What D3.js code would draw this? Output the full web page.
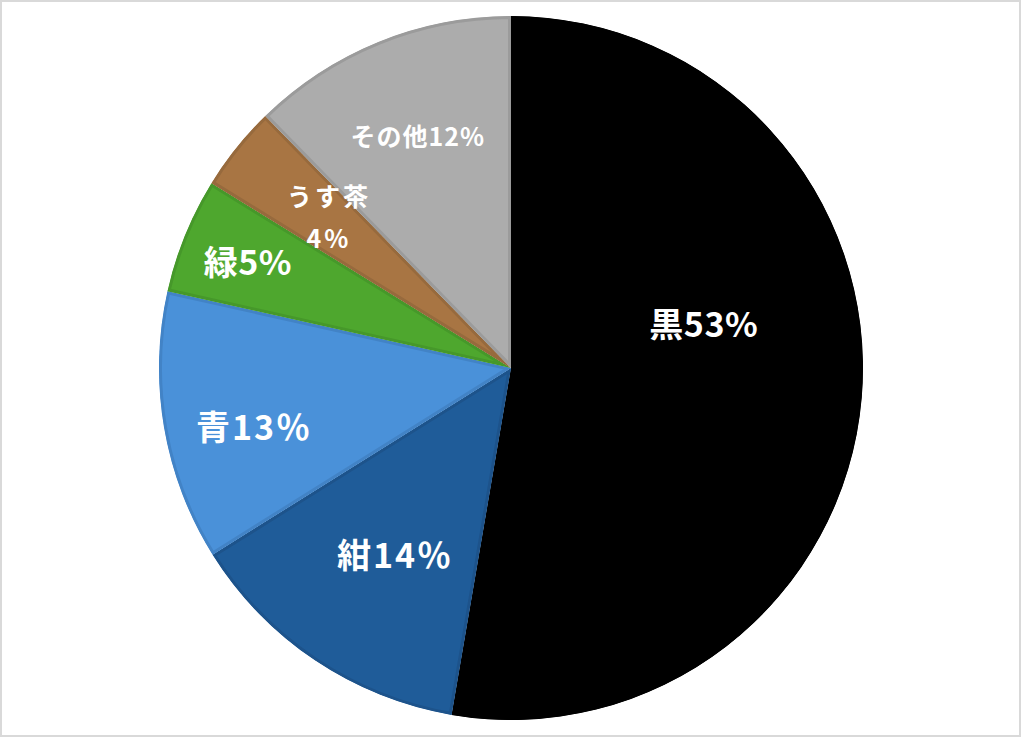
<!DOCTYPE html>
<html lang="ja">
<head>
<meta charset="utf-8">
<title>色の割合</title>
<script src="https://cdn.jsdelivr.net/npm/d3@7"></script>
<style>
  html, body { margin: 0; padding: 0; background: #fff; }
  .label { fill: #fff; font-family: "Noto Sans CJK JP", "Noto Sans", sans-serif; font-weight: 700; text-anchor: middle; dominant-baseline: central; }
</style>
</head>
<body>
<svg class="canvas"></svg>
<script>
// slice data, clockwise from 12 o'clock
var categories = ['黒', '紺', '青', '緑', 'うす茶', 'その他'];
var values = [52.7, 13.4, 12.4, 5.3, 3.9, 12.3];
var labelLines = [['黒53%'], ['紺14％'], ['青13％'], ['緑5%'], ['うす茶', '4%'], ['その他12%']];

var fills = ['#000000', '#1f5c99', '#4a91d9', '#4ea72e', '#a87543', '#acacac'];
var strokes = ['#000000', '#1d538b', '#4283c6', '#46982a', '#976a3d', '#9b9b9b'];
// label placement: [angle in degrees clockwise from top, fraction of radius], font size, letter spacing
var labelPolar = [[76.6, 0.563], [212.1, 0.62], [257.5, 0.748], [292.3, 0.808], [309.9, 0.674], [338.2, 0.713]];
var labelSize = [34, 34, 34, 34, 25, 25];
var labelSpacing = [0.5, 2, 2, 0.5, 3, 1];

(function () {
  var width = 1024, height = 740;
  var cx = 511, cy = 368, radius = 352;

  var svg = d3.select('.canvas')
      .attr('width', width)
      .attr('height', height);

  // chart frame
  svg.append('rect')
      .attr('x', 1).attr('y', 1)
      .attr('width', 1019).attr('height', 735)
      .attr('fill', '#fff')
      .attr('stroke', '#d9d9d9')
      .attr('stroke-width', 2);

  var pie = d3.pie().sort(null).value(function(d) { return d; });
  var arcs = pie(values);
  var arc = d3.arc().innerRadius(0).outerRadius(radius);

  var g = svg.append('g').attr('transform', 'translate(' + cx + ',' + cy + ')');

  var defs = svg.append('defs');
  defs.selectAll('clipPath')
    .data(arcs)
    .enter()
    .append('clipPath')
      .attr('id', function(d, i) { return 'slice' + i; })
    .append('path')
      .attr('d', arc);

  // fill plus an inner darker edge (stroke clipped to the slice)
  g.selectAll('path.slice')
    .data(arcs)
    .enter()
    .append('path')
      .attr('class', 'slice')
      .attr('d', arc)
      .attr('fill', function(d, i) { return fills[i]; })
      .attr('stroke', function(d, i) { return strokes[i]; })
      .attr('stroke-width', 6)
      .attr('stroke-linejoin', 'round')
      .attr('clip-path', function(d, i) { return 'url(#slice' + i + ')'; });

  var labels = g.selectAll('text.label')
    .data(arcs)
    .enter()
    .append('text')
      .attr('class', 'label')
      .style('font-size', function(d, i) { return labelSize[i] + 'px'; })
      .style('letter-spacing', function(d, i) { return labelSpacing[i] + 'px'; })
      .attr('transform', function(d, i) {
        var a = labelPolar[i][0] * Math.PI / 180, r = labelPolar[i][1] * radius;
        return 'translate(' + (r * Math.sin(a)) + ',' + (-r * Math.cos(a)) + ')';
      });

  labels.each(function(d, i) {
    var lines = labelLines[i];
    var lh = labelSize[i] * 1.7;
    d3.select(this).selectAll('tspan')
      .data(lines)
      .enter()
      .append('tspan')
        .attr('x', 0)
        .attr('y', function(t, j) { return (j - (lines.length - 1) / 2) * lh; })
        .text(function(t) { return t; });
  });
})();
</script>
</body>
</html>
